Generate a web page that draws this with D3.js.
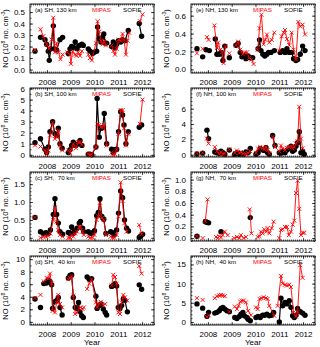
<!DOCTYPE html>
<html>
<head>
<meta charset="utf-8">
<script src="https://cdn.jsdelivr.net/npm/d3@7"></script>
<style>
  body { margin: 0; background: #fff; }
  text { font-family: "Liberation Sans", Arial, sans-serif; fill: #000; }
</style>
</head>
<body>
<script>
// --- data: [year, NO] pairs, null breaks the line ---
const years = [2008, 2009, 2010, 2011, 2012];

const sofieA = [[2007.50,0.16], null,
  [2007.73,0.28],[2007.92,0.26],[2007.99,0.22],[2008.06,0.16],[2008.10,0.08],[2008.17,0.18],[2008.27,0.38],[2008.31,0.18],[2008.41,0.17],[2008.55,0.26],[2008.66,0.28], null,
  [2008.90,0.14],[2008.97,0.18],[2009.04,0.20],[2009.13,0.19],[2009.19,0.24],[2009.27,0.18],[2009.36,0.21],[2009.47,0.22],[2009.53,0.21], null,
  [2009.74,0.18],[2009.81,0.16],[2009.92,0.14],[2009.99,0.15],[2010.09,0.16],[2010.13,0.37],[2010.20,0.27],[2010.27,0.24],[2010.34,0.28],[2010.39,0.31],[2010.45,0.23],[2010.51,0.23], null,
  [2010.72,0.20],[2010.79,0.24],[2010.86,0.19],[2010.93,0.22],[2011.01,0.25],[2011.10,0.24],[2011.18,0.26],[2011.28,0.25],[2011.42,0.34], null,
  [2011.88,0.40],[2011.98,0.29]];
const mipasA = [[2007.50,0.17], null,
  [2007.73,0.35],[2007.85,0.29],[2007.99,0.22],[2008.10,0.18],[2008.20,0.26],[2008.27,0.45],[2008.34,0.15],[2008.41,0.23],[2008.49,0.15],[2008.57,0.09],[2008.66,0.13], null,
  [2008.85,0.15],[2008.97,0.13],[2009.01,0.05],[2009.08,0.16],[2009.18,0.13],[2009.25,0.12],[2009.32,0.15],[2009.39,0.12],[2009.47,0.16], null,
  [2009.74,0.13],[2009.81,0.10],[2009.89,0.08],[2010.06,0.23],[2010.13,0.42],[2010.20,0.33],[2010.27,0.25],[2010.34,0.22],[2010.41,0.25],[2010.48,0.21], null,
  [2010.72,0.21],[2010.79,0.16],[2010.86,0.13],[2010.93,0.18],[2011.01,0.26],[2011.10,0.25],[2011.18,0.31],[2011.24,0.26],[2011.32,0.13],[2011.39,0.25],[2011.46,0.32], null,
  [2011.91,0.42],[2012.02,0.48]];

const sofieB = [[2007.50,1.1], null,
  [2007.73,1.45],[2007.92,0.5],[2007.99,0.2],[2008.06,0.7],[2008.13,2.1],[2008.24,3.0],[2008.34,1.9],[2008.41,1.75],[2008.48,2.4],[2008.55,1.0],[2008.64,0.6], null,
  [2008.90,0.2],[2008.97,0.45],[2009.04,0.85],[2009.11,1.15],[2009.22,0.85],[2009.32,1.0],[2009.39,1.3],[2009.47,0.85], null,
  [2009.74,0.05],[2009.81,0.05],[2009.88,0.0],[2010.06,0.7],[2010.11,5.1],[2010.20,1.6],[2010.27,2.4],[2010.34,2.45],[2010.41,3.75],[2010.51,1.0], null,
  [2010.72,0.5],[2010.79,0.2],[2010.86,0.45],[2010.93,0.5],[2011.01,2.1],[2011.10,3.9],[2011.18,3.6],[2011.24,2.7],[2011.32,1.0],[2011.42,2.1], null,
  [2011.88,2.5],[2011.98,2.7]];
const mipasB = [[2007.50,0.85], null,
  [2007.73,0.75],[2007.92,0.4],[2007.99,0.05],[2008.06,0.4],[2008.13,1.75],[2008.24,2.9],[2008.34,1.45],[2008.41,1.6],[2008.48,2.2],[2008.55,0.85],[2008.64,0.4], null,
  [2008.90,0.4],[2008.97,0.2],[2009.04,0.5],[2009.11,1.0],[2009.22,0.6],[2009.32,1.15],[2009.39,1.15],[2009.47,0.9], null,
  [2009.74,0.05],[2009.81,0.0],[2009.88,0.05],[2010.06,0.7],[2010.13,2.8],[2010.20,2.7],[2010.27,2.5],[2010.34,2.5],[2010.41,2.7],[2010.51,0.85], null,
  [2010.72,0.2],[2010.79,0.05],[2010.86,0.05],[2010.93,0.45],[2011.01,1.9],[2011.10,4.05],[2011.18,4.05],[2011.24,2.4],[2011.32,0.85],[2011.42,1.9], null,
  [2011.91,2.8],[2012.02,5.0]];

const sofieC = [[2007.50,0.57], null,
  [2007.73,0.17],[2007.85,0.12],[2007.96,0.14],[2008.06,0.12],[2008.15,0.22],[2008.27,0.65],[2008.34,1.09],[2008.41,0.65],[2008.48,0.41],[2008.55,0.17],[2008.66,0.10], null,
  [2008.90,0.15],[2008.97,0.12],[2009.04,0.3],[2009.11,0.12],[2009.19,0.19],[2009.27,0.27],[2009.36,0.41],[2009.41,0.46],[2009.50,0.27],[2009.55,0.17], null,
  [2009.74,0.17],[2009.83,0.12],[2009.92,0.14],[2010.00,0.2],[2010.09,0.62],[2010.16,0.71],[2010.23,1.09],[2010.31,0.6],[2010.39,0.52],[2010.48,0.12], null,
  [2010.68,0.17],[2010.76,0.14],[2010.83,0.08],[2010.93,0.22],[2011.01,0.69],[2011.10,1.31],[2011.18,1.12],[2011.26,0.5],[2011.35,0.27],[2011.43,0.19], null,
  [2011.88,0.01],[2011.94,0.05],[2012.02,0.1]];
const mipasC = [[2007.50,0.57], null,
  [2007.73,0.0],[2007.85,0.03],[2007.96,0.03],[2008.06,0.05],[2008.15,0.12],[2008.27,0.5],[2008.34,0.84],[2008.41,0.46],[2008.48,0.22],[2008.55,0.08],[2008.66,0.03], null,
  [2008.90,0.0],[2008.97,0.0],[2009.04,0.08],[2009.11,0.03],[2009.19,0.12],[2009.27,0.17],[2009.36,0.3],[2009.41,0.31],[2009.50,0.17],[2009.55,0.08], null,
  [2009.74,0.03],[2009.83,0.0],[2009.92,0.0],[2010.00,0.08],[2010.09,0.5],[2010.16,0.6],[2010.23,0.98],[2010.31,0.55],[2010.39,0.5],[2010.48,0.08], null,
  [2010.68,0.03],[2010.76,0.0],[2010.83,0.0],[2010.93,0.08],[2011.01,0.6],[2011.10,1.55],[2011.18,1.03],[2011.26,0.41],[2011.35,0.17], null,
  [2011.88,0.36],[2011.98,0.1]];

const sofieD = [[2007.50,3.65], null, [2007.73,2.3], null,
  [2007.87,6.1],[2007.99,6.2],[2008.06,6.6],[2008.13,6.45],[2008.20,5.9],[2008.24,2.15],[2008.34,3.2],[2008.41,3.4],[2008.48,3.9],[2008.55,2.3],[2008.64,1.1], null,
  [2008.90,7.0],[2008.97,7.4],[2009.04,7.5],[2009.11,3.9],[2009.19,2.3],[2009.27,2.15],[2009.33,3.1],[2009.39,1.6],[2009.46,0.97],[2009.53,0.7], null,
  [2009.69,7.15],[2009.78,6.8],[2009.88,6.9],[2010.06,4.1],[2010.11,2.15],[2010.20,2.6],[2010.27,2.85],[2010.37,2.05],[2010.45,1.5],[2010.51,1.1], null,
  [2010.72,5.65],[2010.79,5.8],[2010.86,6.1],[2010.93,5.7],[2011.00,2.3],[2011.07,2.15],[2011.14,2.6],[2011.21,3.65],[2011.28,3.4],[2011.38,1.6], null,
  [2011.88,5.9],[2011.98,5.2]];
const mipasD = [[2007.50,3.75], null, [2007.73,4.3], null,
  [2007.87,6.45],[2007.99,7.0],[2008.06,6.9],[2008.13,7.7],[2008.20,6.1],[2008.24,1.75],[2008.34,1.5],[2008.41,3.1],[2008.48,4.3],[2008.55,2.85],[2008.64,2.3], null,
  [2008.90,6.8],[2008.97,7.0],[2009.04,7.3],[2009.11,4.2],[2009.19,1.25],[2009.27,1.5],[2009.36,2.15],[2009.41,2.3],[2009.50,2.05],[2009.55,2.3], null,
  [2009.69,5.25],[2009.78,6.1],[2009.88,6.8],[2010.06,3.1],[2010.11,2.3],[2010.20,2.85],[2010.27,3.2],[2010.37,2.6],[2010.45,2.85], null,
  [2010.72,5.8],[2010.79,7.5],[2010.86,7.15],[2010.93,6.1],[2011.00,1.5],[2011.07,1.25],[2011.14,3.1],[2011.21,4.3],[2011.28,3.9],[2011.38,3.4], null,
  [2011.88,8.9],[2011.98,7.7]];

const sofieE = [[2007.54,0.23], null, [2007.78,0.14], null, [2007.92,0.22],[2008.06,0.21], null,
  [2008.31,0.34],[2008.38,0.17],[2008.48,0.17],[2008.55,0.19],[2008.63,0.10],[2008.71,0.26], null, [2008.90,0.13], null,
  [2009.18,0.27],[2009.27,0.29],[2009.36,0.19],[2009.43,0.14],[2009.53,0.16],[2009.60,0.12],[2009.69,0.15],[2009.78,0.13],[2009.88,0.13], null,
  [2010.11,0.23],[2010.17,0.33],[2010.23,0.21],[2010.31,0.17],[2010.39,0.15],[2010.48,0.17],[2010.55,0.19],[2010.65,0.19],[2010.79,0.21], null,
  [2011.04,0.19],[2011.14,0.21],[2011.24,0.19],[2011.32,0.23],[2011.42,0.19],[2011.52,0.19],[2011.60,0.12],[2011.70,0.10],[2011.77,0.11],[2011.88,0.17],[2011.98,0.26],[2012.08,0.21]];
const mipasE = [[2007.54,0.18], null, [2007.78,0.23], null, [2007.96,0.36],[2008.03,0.33], null,
  [2008.27,0.49],[2008.38,0.24],[2008.43,0.30],[2008.52,0.22],[2008.59,0.19],[2008.66,0.07],[2008.74,0.26], null, [2008.90,0.18], null,
  [2009.18,0.27],[2009.27,0.31],[2009.36,0.22],[2009.46,0.17],[2009.55,0.19],[2009.64,0.19],[2009.74,0.13],[2009.83,0.11],[2009.92,0.06], null,
  [2010.09,0.22],[2010.17,0.46],[2010.25,0.61],[2010.34,0.28],[2010.41,0.33],[2010.48,0.39],[2010.58,0.30],[2010.68,0.33],[2010.79,0.41], null,
  [2011.00,0.21],[2011.10,0.37],[2011.18,0.41],[2011.24,0.44],[2011.32,0.34],[2011.42,0.27],[2011.52,0.41],[2011.60,0.22],[2011.70,0.11],[2011.80,0.53],[2011.88,0.48],[2011.98,0.50],[2012.08,0.39]];

const sofieF = [[2007.54,0.1], null, [2007.78,0.2], null, [2007.96,3.2],[2008.03,2.1], null,
  [2008.29,0.35],[2008.38,0.25],[2008.48,0.15],[2008.55,0.45],[2008.63,0.25],[2008.71,0.07], null, [2008.90,0.6], null,
  [2009.13,0.07],[2009.22,0.25],[2009.32,0.07],[2009.39,0.15],[2009.50,0.07],[2009.60,0.35],[2009.69,0.25],[2009.78,0.8], null,
  [2010.02,0.07],[2010.11,0.25],[2010.20,0.8],[2010.30,0.6],[2010.37,0.55],[2010.44,0.9],[2010.51,0.25],[2010.58,0.07], null, [2010.72,2.5],[2010.82,1.2], null,
  [2011.00,0.25],[2011.07,0.2],[2011.14,0.45],[2011.24,0.25],[2011.32,0.6],[2011.40,0.8],[2011.49,1.1],[2011.56,0.45],[2011.63,0.6],[2011.70,1.1],[2011.77,1.55],[2011.84,3.0],[2011.91,0.25],[2011.98,0.45],[2012.05,0.07]];
const mipasF = [[2007.54,0.15], null, [2007.78,0.25], null, [2007.96,2.1],[2008.03,1.45], null,
  [2008.29,1.0],[2008.38,0.45],[2008.48,0.07],[2008.55,0.35],[2008.63,0.07],[2008.71,0.15], null, [2008.90,0.7], null,
  [2009.13,0.25],[2009.22,0.55],[2009.32,0.25],[2009.39,0.35],[2009.50,0.15],[2009.60,0.07],[2009.69,0.2],[2009.78,0.45], null,
  [2010.02,0.25],[2010.11,0.8],[2010.20,1.0],[2010.30,0.8],[2010.37,0.7],[2010.44,1.0],[2010.51,0.6],[2010.58,0.15], null, [2010.72,2.3],[2010.82,1.0], null,
  [2011.00,0.45],[2011.07,1.2],[2011.14,0.8],[2011.24,0.6],[2011.32,0.9],[2011.40,1.0],[2011.49,1.1],[2011.56,0.8],[2011.63,1.0],[2011.70,1.45],[2011.77,1.75],[2011.84,6.25],[2011.91,2.1],[2011.98,0.8]];

const sofieG = [[2007.54,0.03], null, [2007.89,0.28],[2007.96,0.27],[2008.03,0.26], null, [2008.55,0.11], null, [2009.78,0.35]];
const mipasG = [[2007.54,0.03], null, [2007.78,0.0], null, [2007.89,0.29],[2007.99,0.66], null,
  [2008.34,0.02],[2008.41,0.0],[2008.48,0.03],[2008.55,0.01],[2008.62,0.05],[2008.71,0.11],[2008.83,0.05], null,
  [2009.11,0.0],[2009.22,0.02],[2009.32,0.0],[2009.39,0.05],[2009.50,0.0],[2009.60,0.02], null,
  [2009.76,0.49],[2009.83,0.08], null,
  [2010.09,0.02],[2010.17,0.03],[2010.23,0.11],[2010.30,0.08],[2010.37,0.15],[2010.45,0.11],[2010.51,0.17],[2010.58,0.08],[2010.68,0.17],[2010.76,0.28], null,
  [2011.00,0.0],[2011.07,0.14],[2011.14,0.15],[2011.24,0.19],[2011.32,0.19],[2011.40,0.05],[2011.49,0.11],[2011.56,0.23],[2011.63,0.3],[2011.70,0.77],[2011.77,0.98],[2011.84,0.5],[2011.91,0.05],[2011.98,0.09],[2012.05,0.09]];

const sofieH = [[2007.54,4.7], null, [2007.78,3.6], null, [2007.96,1.5],[2008.03,2.5], null,
  [2008.29,2.3],[2008.38,2.5],[2008.48,2.9],[2008.55,3.5],[2008.63,3.8],[2008.71,3.35],[2008.80,2.9],[2008.90,2.65], null,
  [2009.13,1.15],[2009.22,0.9],[2009.32,1.4],[2009.39,2.0],[2009.47,2.5],[2009.53,1.6],[2009.64,1.15],[2009.69,0.7],[2009.78,0.3], null,
  [2010.02,1.15],[2010.11,1.4],[2010.20,1.15],[2010.30,1.75],[2010.39,1.75],[2010.48,2.0],[2010.58,1.6],[2010.68,1.75],[2010.76,2.5], null,
  [2011.00,0.0],[2011.07,6.2],[2011.14,4.2],[2011.24,5.1],[2011.32,4.7],[2011.42,5.55],[2011.49,3.8],[2011.56,1.6],[2011.63,1.15],[2011.70,1.75],[2011.77,3.5],[2011.88,2.65],[2011.98,2.3],[2012.08,1.75]];
const mipasH = [[2007.54,6.2], null, [2007.78,5.75], null, [2007.96,1.3],[2008.03,1.75], null,
  [2008.29,6.2],[2008.38,6.7],[2008.48,6.9],[2008.55,7.05],[2008.63,6.9],[2008.71,6.7], null, [2008.90,2.65], null,
  [2009.13,4.0],[2009.22,3.35],[2009.29,4.2],[2009.36,5.3],[2009.43,5.55],[2009.50,5.55],[2009.60,5.1],[2009.69,2.9],[2009.81,1.75], null,
  [2010.02,3.8],[2010.09,3.35],[2010.17,6.0],[2010.25,6.2],[2010.34,6.45],[2010.44,6.2],[2010.51,6.0],[2010.58,4.2],[2010.79,1.6], null,
  [2010.93,4.2],[2011.07,12.0],[2011.14,10.0],[2011.24,9.7],[2011.32,9.5],[2011.42,9.7],[2011.49,9.1],[2011.60,2.5],[2011.70,1.4],[2011.77,2.65],[2011.88,14.8],[2011.98,11.5]];

const panelLabels = ['(a) SH, 130 km', '(b) SH, 100 km', '(c) SH,  70 km', '(d) SH,  40 km',
                     '(e) NH, 130 km', '(f) NH, 100 km', '(g) NH,  70 km', '(h) NH,  40 km'];
const yDomains = [[-0.03,0.57],[-0.2,6.05],[-0.09,1.84],[-0.5,10.5],
                  [-0.04,0.73],[-0.3,8.7],[-0.05,1.13],[-0.8,17.2]];
const yTicks = [[0,0.1,0.2,0.3,0.4,0.5],[0,1,2,3,4,5,6],[0,0.5,1,1.5],[0,2,4,6,8,10],
                [0,0.2,0.4,0.6],[0,2,4,6],[0,0.2,0.4,0.6,0.8,1.0],[0,5,10,15]];
const yMinor = [0.05, 0.5, 0.1, 1, 0.05, 0.5, 0.05, 1];
const yFormat = ['.1f','d','.1f','d','.1f','d','.1f','d'];
const sofie = [sofieA, sofieB, sofieC, sofieD, sofieE, sofieF, sofieG, sofieH];
const mipas = [mipasA, mipasB, mipasC, mipasD, mipasE, mipasF, mipasG, mipasH];

// --- layout ---
const colX = [30, 191], rowY = [4, 88, 172, 256];
const pw = 124, ph = 69;

const svg = d3.select('body').append('svg')
    .attr('width', 320)
    .attr('height', 347);

const x = d3.scaleLinear().domain([2007.29, 2012.5]).range([0, pw]);
const months = d3.range(2007.33, 2012.5, 1/12);

const line = d3.line()
    .defined(d => d !== null)
    .x(d => x(d[0]))
    .y(d => d[1]);

panelLabels.forEach((lab, i) => {
  const col = Math.floor(i / 4), row = i % 4;
  const g = svg.append('g').attr('transform', `translate(${colX[col]},${rowY[row]})`);
  const y = d3.scaleLinear().domain(yDomains[i]).range([ph, 0]);
  const minors = d3.range(Math.ceil(yDomains[i][0] / yMinor[i]) * yMinor[i], yDomains[i][1], yMinor[i]);

  // left + right axes (inward ticks)
  g.append('g').call(d3.axisLeft(y).tickValues(yTicks[i]).tickSize(-3).tickPadding(5)
      .tickFormat(d3.format(yFormat[i])))
    .call(a => a.select('.domain').remove())
    .selectAll('text').attr('font-size', 8);
  g.append('g').attr('transform', `translate(${pw},0)`)
    .call(d3.axisRight(y).tickValues(yTicks[i]).tickSize(-3).tickFormat(''))
    .call(a => a.select('.domain').remove());
  g.append('g').call(d3.axisLeft(y).tickValues(minors).tickSize(-1.5).tickFormat(''))
    .call(a => a.select('.domain').remove());
  g.append('g').attr('transform', `translate(${pw},0)`)
    .call(d3.axisRight(y).tickValues(minors).tickSize(-1.5).tickFormat(''))
    .call(a => a.select('.domain').remove());

  // bottom + top axes
  g.append('g').attr('transform', `translate(0,${ph})`)
    .call(d3.axisBottom(x).tickValues(years).tickSize(-3).tickPadding(6).tickFormat(d3.format('d')))
    .call(a => a.select('.domain').remove())
    .selectAll('text').attr('font-size', 8);
  g.append('g')
    .call(d3.axisTop(x).tickValues(years).tickSize(-3).tickFormat(''))
    .call(a => a.select('.domain').remove());
  g.append('g').attr('transform', `translate(0,${ph})`)
    .call(d3.axisBottom(x).tickValues(months).tickSize(-1.5).tickFormat(''))
    .call(a => a.select('.domain').remove());
  g.append('g')
    .call(d3.axisTop(x).tickValues(months).tickSize(-1.5).tickFormat(''))
    .call(a => a.select('.domain').remove());
  g.selectAll('.tick line').attr('stroke-width', 0.7);

  g.append('rect').attr('width', pw).attr('height', ph)
    .attr('fill', 'none').attr('stroke', '#000').attr('stroke-width', 0.9);

  // series
  const sd = sofie[i].map(d => d && [d[0], y(d[1])]);
  const md = mipas[i].map(d => d && [d[0], y(d[1])]);

  g.append('path').attr('d', line(sd))
    .attr('fill', 'none').attr('stroke', '#000').attr('stroke-width', 1.2);
  g.selectAll('circle').data(sofie[i].filter(d => d)).enter()
    .append('circle')
    .attr('cx', d => x(d[0])).attr('cy', d => y(d[1]))
    .attr('r', 2.7).attr('fill', '#000');

  g.append('path').attr('d', line(md))
    .attr('fill', 'none').attr('stroke', '#f00').attr('stroke-width', 0.9);
  g.selectAll('path.mx').data(mipas[i].filter(d => d)).enter()
    .append('path').attr('class', 'mx')
    .attr('transform', d => `translate(${x(d[0])},${y(d[1])})`)
    .attr('d', 'M-2,-2L2,2M2,-2L-2,2')
    .attr('stroke', '#f00').attr('stroke-width', 0.9);

  // labels
  g.append('text').attr('x', 5).attr('y', 7.5)
    .attr('font-size', 6.2).style('white-space', 'pre').text(lab);
  g.append('text').attr('x', 62).attr('y', 7.5)
    .attr('font-size', 6.2).style('fill', '#f00').text('MIPAS');
  g.append('text').attr('x', 93).attr('y', 7.5)
    .attr('font-size', 6.2).text('SOFIE');

  const yt = g.append('text')
    .attr('transform', `translate(-22.5,${ph / 2}) rotate(-90)`)
    .attr('text-anchor', 'middle').attr('font-size', 7.5);
  yt.append('tspan').text('NO (10');
  yt.append('tspan').attr('dy', -3).attr('font-size', 5).text('8');
  yt.append('tspan').attr('dy', 3).text(' no. cm');
  yt.append('tspan').attr('dy', -3).attr('font-size', 5).text('-3');
  yt.append('tspan').attr('dy', 3).text(')');

  if (row === 3) {
    g.append('text').attr('x', pw / 2).attr('y', ph + 20)
      .attr('text-anchor', 'middle').attr('font-size', 8).text('Year');
  }
});
</script>
</body>
</html>
